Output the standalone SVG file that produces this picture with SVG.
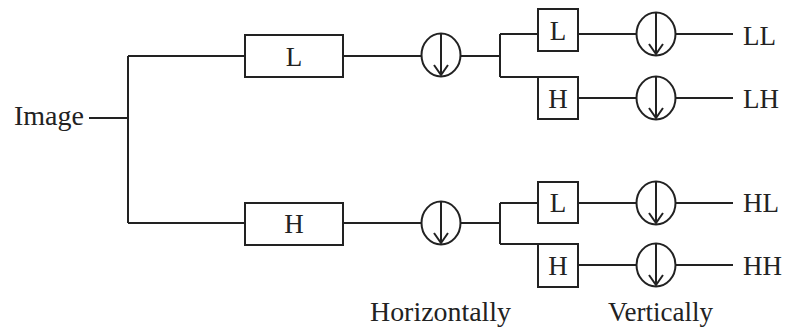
<svg xmlns="http://www.w3.org/2000/svg" width="786" height="332" viewBox="0 0 786 332">
<defs>
<style>
.ln{stroke:#222;stroke-width:2;fill:none}
.bx{stroke:#222;stroke-width:2;fill:#fff}
.t{font-family:"Liberation Serif","Times New Roman",serif;font-size:27px;fill:#222}
.c{text-anchor:middle}
</style>
<g id="down">
<ellipse cx="0" cy="0" rx="19.5" ry="21.5" class="bx"/>
<path d="M0,-21.5 V20 M-7,10 L0,20 L7,10" class="ln"/>
</g>
</defs>
<rect width="786" height="332" fill="#fff"/>
<g id="connectors">
<path class="ln" d="M89,118 H128 M128,56 V223 M128,56 H245 M128,223 H245"/>
<path class="ln" d="M343,56 H421 M461,56 H500 M500,34 V77 M500,34 H538 M500,77 H538"/>
<path class="ln" d="M343,223 H421 M461,223 H500 M500,203 V244 M500,203 H538 M500,244 H538"/>
<path class="ln" d="M578,34 H636 M676,34 H733 M578,98 H636 M676,98 H733"/>
<path class="ln" d="M578,203 H636 M676,203 H733 M578,265 H636 M676,265 H733"/>
</g>
<g id="image"><text class="t" x="14" y="125" textLength="70" lengthAdjust="spacingAndGlyphs">Image</text></g>
<g id="boxL"><rect class="bx" x="245" y="35" width="98" height="42"/><text class="t c" x="294" y="66">L</text></g>
<g id="boxH"><rect class="bx" x="245" y="203" width="98" height="42"/><text class="t c" x="294" y="233">H</text></g>
<g id="dsH1"><use href="#down" x="441" y="55"/></g>
<g id="dsH2"><use href="#down" x="441" y="223"/></g>
<g id="boxLL"><rect class="bx" x="538" y="9" width="40" height="42"/><text class="t c" x="558" y="40">L</text></g>
<g id="boxLH"><rect class="bx" x="538" y="77" width="40" height="42"/><text class="t c" x="558" y="108">H</text></g>
<g id="boxHL"><rect class="bx" x="538" y="182" width="40" height="41"/><text class="t c" x="558" y="212">L</text></g>
<g id="boxHH"><rect class="bx" x="538" y="244" width="40" height="43"/><text class="t c" x="558" y="275">H</text></g>
<g id="dsV1"><use href="#down" x="656" y="34"/></g>
<g id="dsV2"><use href="#down" x="656" y="98"/></g>
<g id="dsV3"><use href="#down" x="656" y="203"/></g>
<g id="dsV4"><use href="#down" x="656" y="265"/></g>
<g id="outLL"><text class="t" x="743" y="45">LL</text></g>
<g id="outLH"><text class="t" x="743" y="108">LH</text></g>
<g id="outHL"><text class="t" x="743" y="212">HL</text></g>
<g id="outHH"><text class="t" x="743" y="275">HH</text></g>
<g id="labH"><text class="t" x="370" y="321" textLength="141" lengthAdjust="spacingAndGlyphs">Horizontally</text></g>
<g id="labV"><text class="t" x="608" y="321" textLength="105" lengthAdjust="spacingAndGlyphs">Vertically</text></g>
</svg>
